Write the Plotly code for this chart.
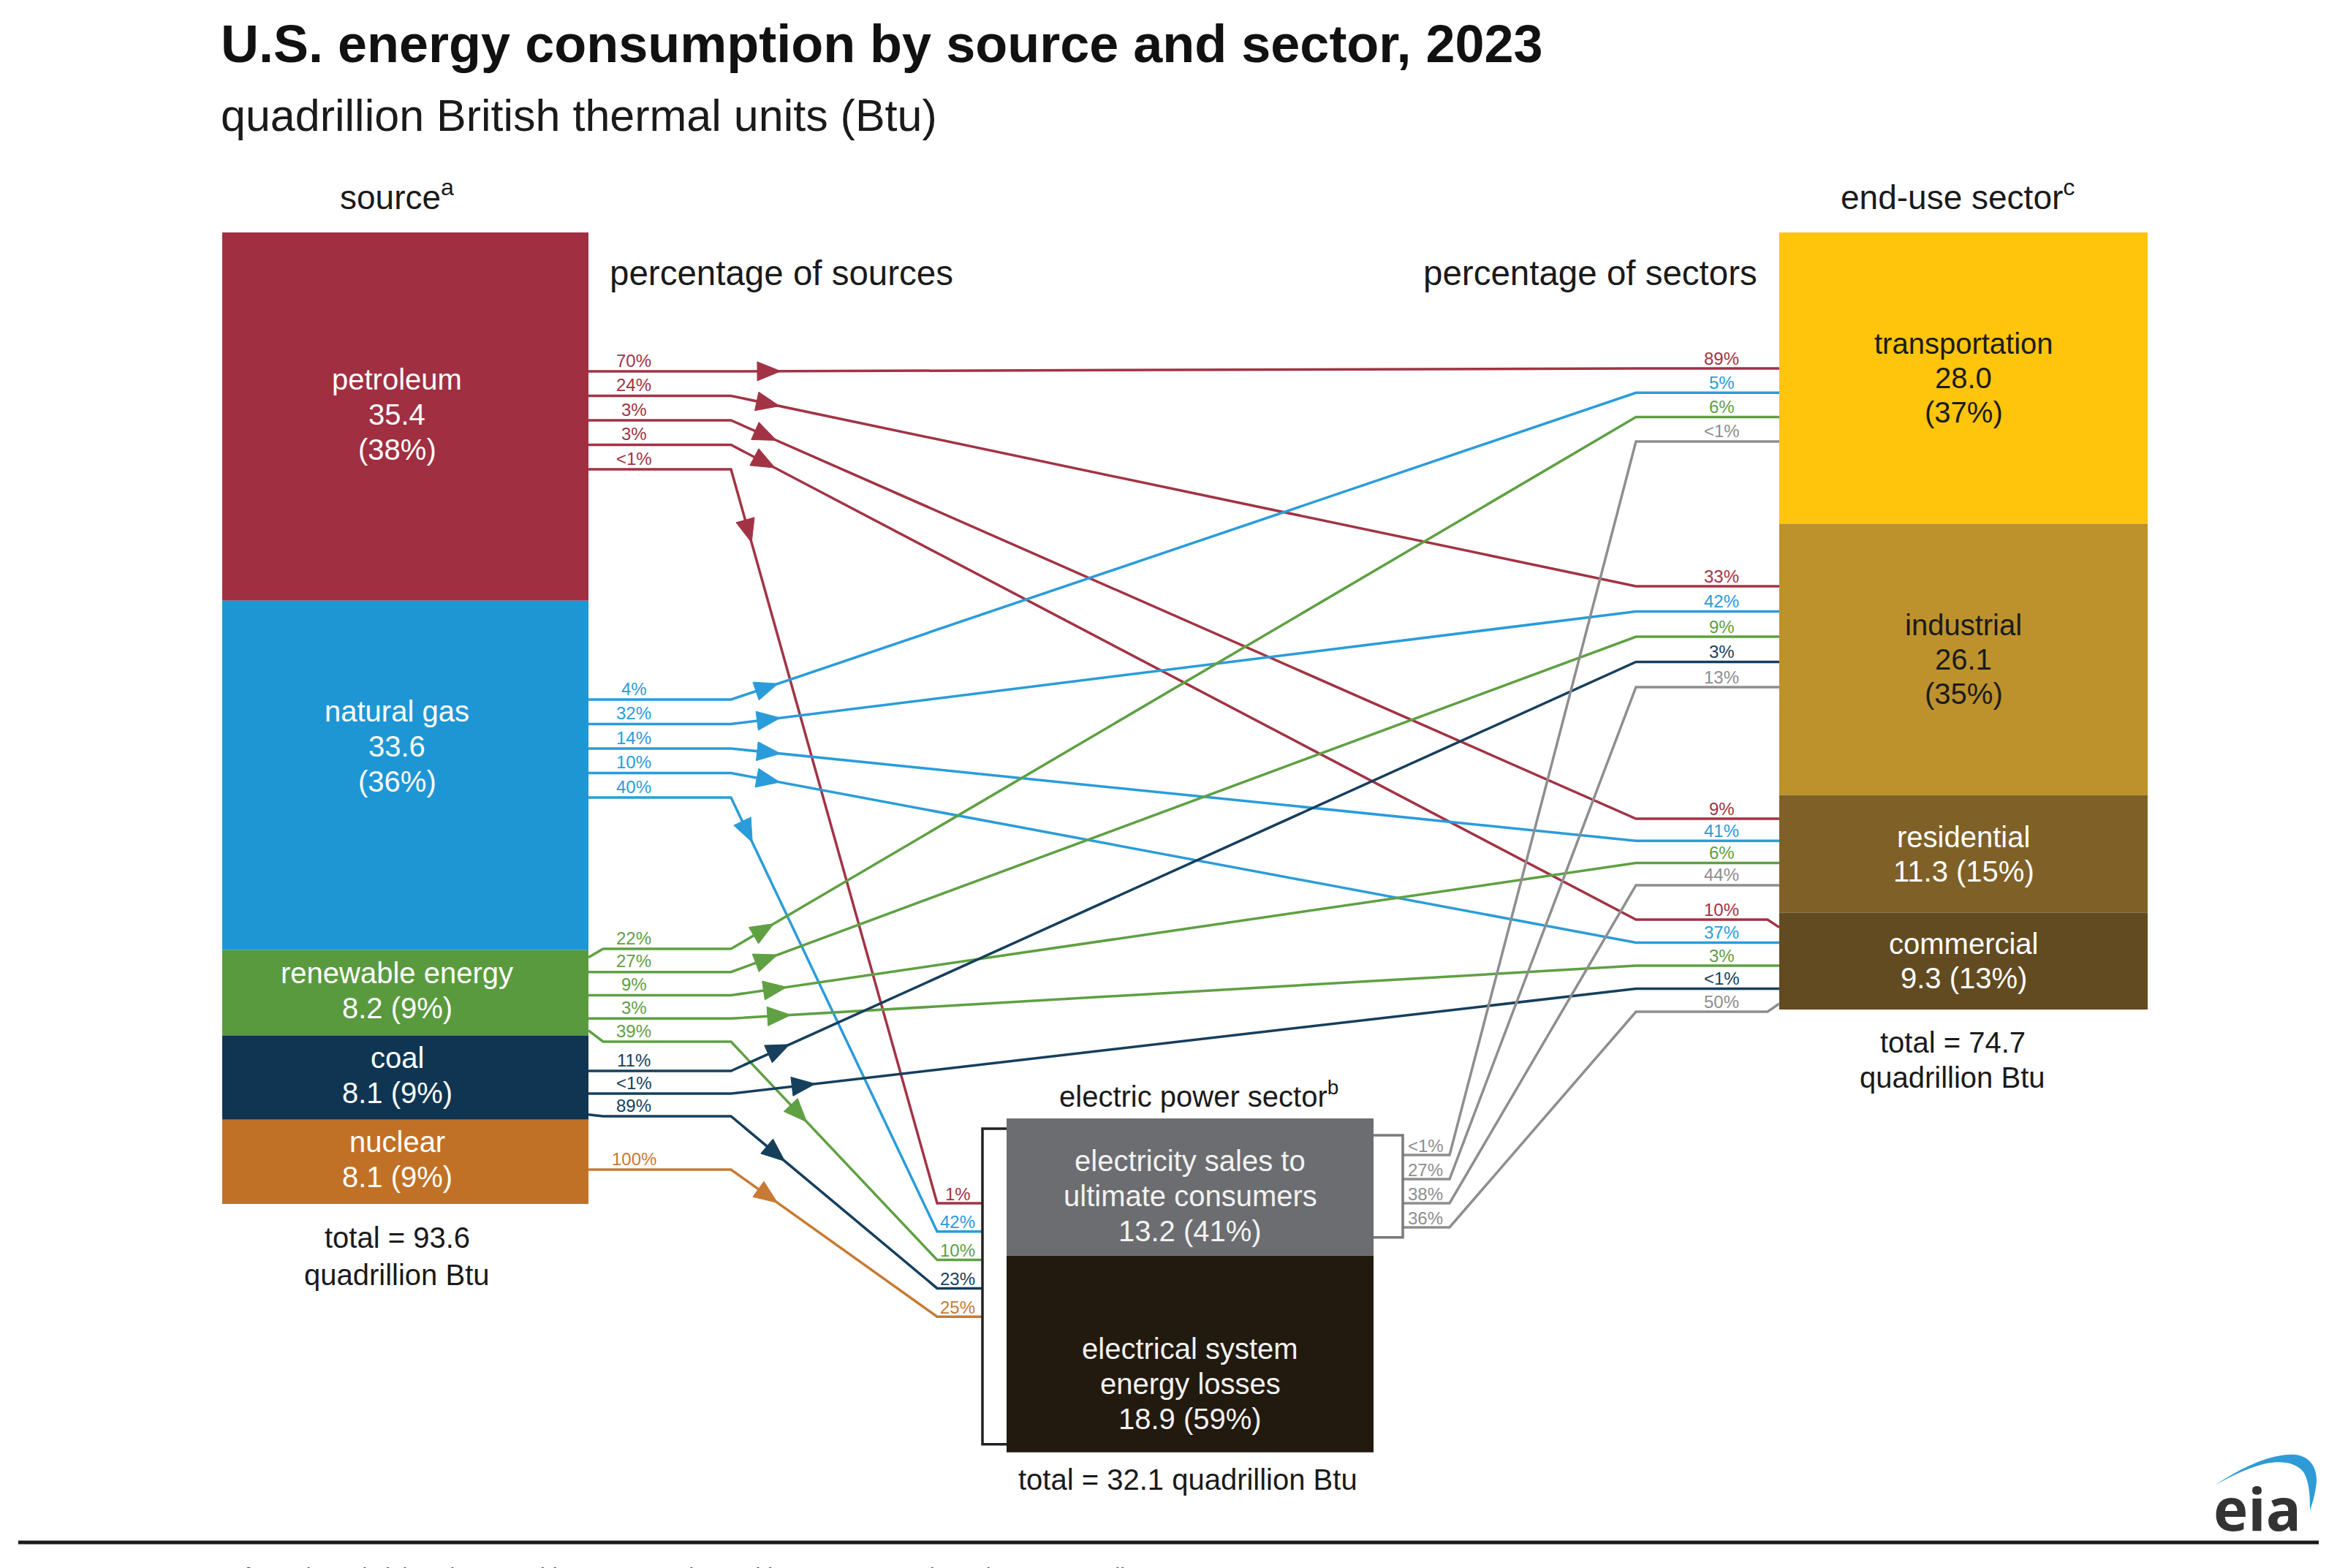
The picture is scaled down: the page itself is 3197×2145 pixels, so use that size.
import math
import plotly.graph_objects as go

# ---------------- data ----------------
sources = ["petroleum", "natural gas", "renewable energy", "coal", "nuclear"]
source_values = [35.4, 33.6, 8.2, 8.1, 8.1]
source_shares = ["38%", "36%", "9%", "9%", "9%"]
source_total = 93.6

sectors = ["transportation", "industrial", "residential", "commercial"]
sector_values = [28.0, 26.1, 11.3, 9.3]
sector_shares = ["37%", "35%", "15%", "13%"]
sector_total = 74.7

power_parts = [["electricity sales to", "ultimate consumers"], ["electrical system", "energy losses"]]
power_values = [13.2, 18.9]
power_shares = ["41%", "59%"]
power_total = 32.1

flow_from = (["petroleum"] * 5 + ["natural gas"] * 5 + ["renewable energy"] * 5
             + ["coal"] * 3 + ["nuclear"] + ["electric power"] * 4)
flow_to = (["transportation", "industrial", "residential", "commercial", "electric power"] * 3
           + ["industrial", "commercial", "electric power"] + ["electric power"]
           + ["transportation", "industrial", "residential", "commercial"])
pct_of_source = ["70%", "24%", "3%", "3%", "<1%",
                 "4%", "32%", "14%", "10%", "40%",
                 "22%", "27%", "9%", "3%", "39%",
                 "11%", "<1%", "89%",
                 "100%",
                 "<1%", "27%", "38%", "36%"]
pct_of_target = ["89%", "33%", "9%", "10%", "1%",
                 "5%", "42%", "41%", "37%", "42%",
                 "6%", "9%", "6%", "3%", "10%",
                 "3%", "<1%", "23%",
                 "25%",
                 "<1%", "13%", "44%", "50%"]

# ---------------- styles / layout ----------------
W, H = 3197, 2145
PX = 14.23            # pixels per quadrillion Btu
TOP = 318
SRC_X = (304, 805)
SEC_X = (2434, 2938)
PWR_X = (1377, 1879)
PWR_TOP = 1530
FONT = "Liberation Sans, Arial, sans-serif"

box_colors = {
    "petroleum": "#A02F41", "natural gas": "#1F96D4", "renewable energy": "#5A9A3E",
    "coal": "#0F3552", "nuclear": "#C17126",
    "transportation": "#FFC40C", "industrial": "#BD922C", "residential": "#7F6128",
    "commercial": "#624B21",
}
power_colors = ["#6C6D70", "#221A0F"]
line_colors = {
    "petroleum": "#A23344", "natural gas": "#2A9CDA", "renewable energy": "#5FA043",
    "coal": "#163F5C", "nuclear": "#C77A33", "electric power": "#8E8E8E",
}
sector_text_colors = {"transportation": "#1b1b1b", "industrial": "#1b1b1b",
                      "residential": "#ffffff", "commercial": "#ffffff"}

out_slots = {"petroleum": (508, 33.5), "natural gas": (957, 33.5),
             "renewable energy": (1298, 31.75), "coal": (1465, 31),
             "nuclear": (1600, 0), "electric power": (1580, 33)}
in_slots = {"transportation": (504, 33.3), "industrial": (802, 34.5),
            "residential": (1120, 30.3), "commercial": (1258, 31.5),
            "electric power": (1646, 38.8)}

X_BEND_L, X_BEND_R = 1000, 2238
X_PIN_BEND, X_PIN = 1282, 1344
X_POUT, X_POUT_BEND = 1919, 1983
arrow_dist = {("petroleum", "electric power"): 88, ("renewable energy", "electric power"): 135,
              ("coal", "commercial"): 100, ("coal", "electric power"): 80,
              ("coal", "industrial"): 72, ("renewable energy", "commercial"): 66,
              ("renewable energy", "residential"): 61, ("nuclear", "electric power"): 62}
ARROW_DEFAULT = 52
ARROW_LEN, ARROW_HALF = 32, 13
SRC_LABEL_X = 543

fig = go.Figure()
shapes = []
annotations = []


def text(x, y, s, size, color="#1a1a1a", xanchor="center", yanchor="middle", bold=False, family=FONT):
    annotations.append(dict(x=x, y=y, xref="x", yref="y", text=("<b>%s</b>" % s) if bold else s,
                            showarrow=False, xanchor=xanchor, yanchor=yanchor,
                            font=dict(family=family, size=size, color=color)))


def rect(x0, y0, x1, y1, color):
    shapes.append(dict(type="rect", xref="x", yref="y", x0=x0, x1=x1, y0=y0, y1=y1,
                       fillcolor=color, line=dict(width=0), layer="below"))


# ---- source boxes ----
src_box = {}
y = TOP
for name, v, sh in zip(sources, source_values, source_shares):
    h = v * PX
    src_box[name] = (y, y + h)
    rect(SRC_X[0], y, SRC_X[1], y + h, box_colors[name])
    if h > 200:
        lines = [name, "%.1f" % v, "(%s)" % sh]
    else:
        lines = [name, "%.1f (%s)" % (v, sh)]
    cy = y + h / 2 + (-40 if name == "natural gas" else -3)
    for i, ln in enumerate(lines):
        text(SRC_LABEL_X, cy + (i - (len(lines) - 1) / 2) * 48, ln, 40, "#ffffff")
    y += h

# ---- sector boxes ----
sec_box = {}
y = TOP
for name, v, sh in zip(sectors, sector_values, sector_shares):
    h = v * PX
    sec_box[name] = (y, y + h)
    rect(SEC_X[0], y, SEC_X[1], y + h, box_colors[name])
    if h > 200:
        lines = [name, "%.1f" % v, "(%s)" % sh]
    else:
        lines = [name, "%.1f (%s)" % (v, sh)]
    cy = y + h / 2
    for i, ln in enumerate(lines):
        text((SEC_X[0] + SEC_X[1]) / 2, cy + (i - (len(lines) - 1) / 2) * 47, ln, 40,
             sector_text_colors[name])
    y += h

# ---- electric power box ----
y = PWR_TOP
pwr_box = []
for k, (parts, v, sh) in enumerate(zip(power_parts, power_values, power_shares)):
    h = v * PX
    pwr_box.append((y, y + h))
    rect(PWR_X[0], y, PWR_X[1], y + h, power_colors[k])
    lines = parts + ["%.1f (%s)" % (v, sh)]
    cy = y + h / 2 + (12 if k == 0 else 41)
    for i, ln in enumerate(lines):
        text((PWR_X[0] + PWR_X[1]) / 2, cy + (i - 1) * 48, ln, 40, "#f2f2f2")
    y += h
pwr_bottom = y

# brackets
shapes.append(dict(type="path", xref="x", yref="y",
                   path="M %f %f H %f V %f H %f" % (PWR_X[0], PWR_TOP + 14, X_PIN, pwr_bottom - 11, PWR_X[0]),
                   line=dict(color="#222222", width=3.5)))
shapes.append(dict(type="path", xref="x", yref="y",
                   path="M %f %f H %f V %f H %f" % (PWR_X[1], PWR_TOP + 23, X_POUT, pwr_box[0][1] - 25, PWR_X[1]),
                   line=dict(color="#7a7a7a", width=3.5)))

# ---- flows ----
out_count = {}
in_count = {}


def clamp(v, lo, hi):
    return min(max(v, lo), hi)


for f, t, ps, pt in zip(flow_from, flow_to, pct_of_source, pct_of_target):
    i_out = out_count.get(f, 0)
    out_count[f] = i_out + 1
    i_in = in_count.get(t, 0)
    in_count[t] = i_in + 1
    ys = out_slots[f][0] + i_out * out_slots[f][1]
    yt = in_slots[t][0] + i_in * in_slots[t][1]
    color = line_colors[f]

    pts = []
    bend = None
    if f != "electric power":
        b0, b1 = src_box[f]
        ystart = clamp(ys, b0 + 10, b1 - 7)
        pts.append((SRC_X[1], ystart))
        if abs(ystart - ys) > 0.5:
            pts.append((SRC_X[1] + 20, ys))
        pts.append((X_BEND_L, ys))
        bend = len(pts) - 1
        text(867, ys - 15, ps, 24, color)
    else:
        pts += [(X_POUT, ys), (X_POUT_BEND, ys)]
        text(1950, ys - 13, ps, 24, color)

    if t == "electric power":
        pts += [(X_PIN_BEND, yt), (X_PIN, yt)]
        text(1310, yt - 13, pt, 24, color)
    else:
        t0, t1 = sec_box[t]
        yend = clamp(yt, t0 + 20, t1 - 8)
        pts.append((X_BEND_R, yt))
        if abs(yend - yt) > 0.5:
            pts += [(SEC_X[0] - 16, yt), (SEC_X[0], yend)]
        else:
            pts.append((SEC_X[0], yt))
        text(2355, yt - 14, pt, 24, color)

    fig.add_trace(go.Scatter(x=[p[0] for p in pts], y=[p[1] for p in pts], mode="lines",
                             line=dict(color=color, width=3.5), hoverinfo="skip", showlegend=False))

    if bend is not None:
        (x0, y0), (x1, y1) = pts[bend], pts[bend + 1]
        L = math.hypot(x1 - x0, y1 - y0)
        ux, uy = (x1 - x0) / L, (y1 - y0) / L
        d = arrow_dist.get((f, t), ARROW_DEFAULT)
        cx, cy = x0 + ux * d, y0 + uy * d
        tip = (cx + ux * ARROW_LEN / 2, cy + uy * ARROW_LEN / 2)
        bx, by = cx - ux * ARROW_LEN / 2, cy - uy * ARROW_LEN / 2
        nx, ny = -uy, ux
        tri = [tip, (bx + nx * ARROW_HALF, by + ny * ARROW_HALF),
               (bx - nx * ARROW_HALF, by - ny * ARROW_HALF), tip]
        fig.add_trace(go.Scatter(x=[p[0] for p in tri], y=[p[1] for p in tri], mode="lines",
                                 fill="toself", fillcolor=color, line=dict(color=color, width=1),
                                 hoverinfo="skip", showlegend=False))

# ---- titles & labels ----
text(300, 60, "U.S. energy consumption by source and sector, 2023", 72, "#111111", xanchor="left", bold=True)
text(300, 158, "quadrillion British thermal units (Btu)", 61, "#1a1a1a", xanchor="left")
text(SRC_LABEL_X, 267, "source<sup>a</sup>", 46)
text((SEC_X[0] + SEC_X[1]) / 2 - 8, 267, "end-use sector<sup>c</sup>", 46)
text(832, 373, "percentage of sources", 47.5, xanchor="left")
text(2406, 373, "percentage of sectors", 47.5, xanchor="right")
text(1640, 1497, "electric power sector<sup>b</sup>", 40)
text(SRC_LABEL_X, 1693, "total = %.1f" % source_total, 40)
text(SRC_LABEL_X, 1744, "quadrillion Btu", 40)
text(2671, 1426, "total = %.1f" % sector_total, 40)
text(2671, 1474, "quadrillion Btu", 40)
text(1625, 2024, "total = %.1f quadrillion Btu" % power_total, 40)

# footer rule and logo
shapes.append(dict(type="line", xref="x", yref="y", x0=25, x1=3172, y0=2110, y1=2110,
                   line=dict(color="#1a1a1a", width=5)))
text(25, 2137, "Source: U.S. Energy Information Administration, Monthly Energy Review, Tables 1.3, 1.4a, 1.4b, and 2.1–2.6, April 2024",
     30, "#444444", xanchor="left", yanchor="top")
shapes.append(dict(type="path", xref="x", yref="y",
                   path=("M 3030 2032 C 3070 2005, 3110 1988, 3140 1990 C 3165 1993, 3172 2015, 3168 2035 "
                         "C 3166 2048, 3163 2058, 3160 2066 C 3160 2050, 3160 2030, 3152 2015 "
                         "C 3142 2000, 3120 1998, 3100 2002 C 3075 2008, 3050 2020, 3030 2032 Z"),
                   fillcolor="#2E9BD6", line=dict(width=0)))
text(3088, 2062, "eia", 80, "#333333", bold=True, family="Open Sans, Arial, sans-serif")

fig.update_layout(
    width=W, height=H, margin=dict(l=0, r=0, t=0, b=0),
    paper_bgcolor="white", plot_bgcolor="white",
    xaxis=dict(range=[0, W], visible=False, fixedrange=True),
    yaxis=dict(range=[H, 0], visible=False, fixedrange=True),
    shapes=shapes, annotations=annotations, showlegend=False,
)

fig.write_html("out.html", config={"displayModeBar": False},
               post_script="document.body.style.margin='0';document.body.style.overflow='hidden';")
